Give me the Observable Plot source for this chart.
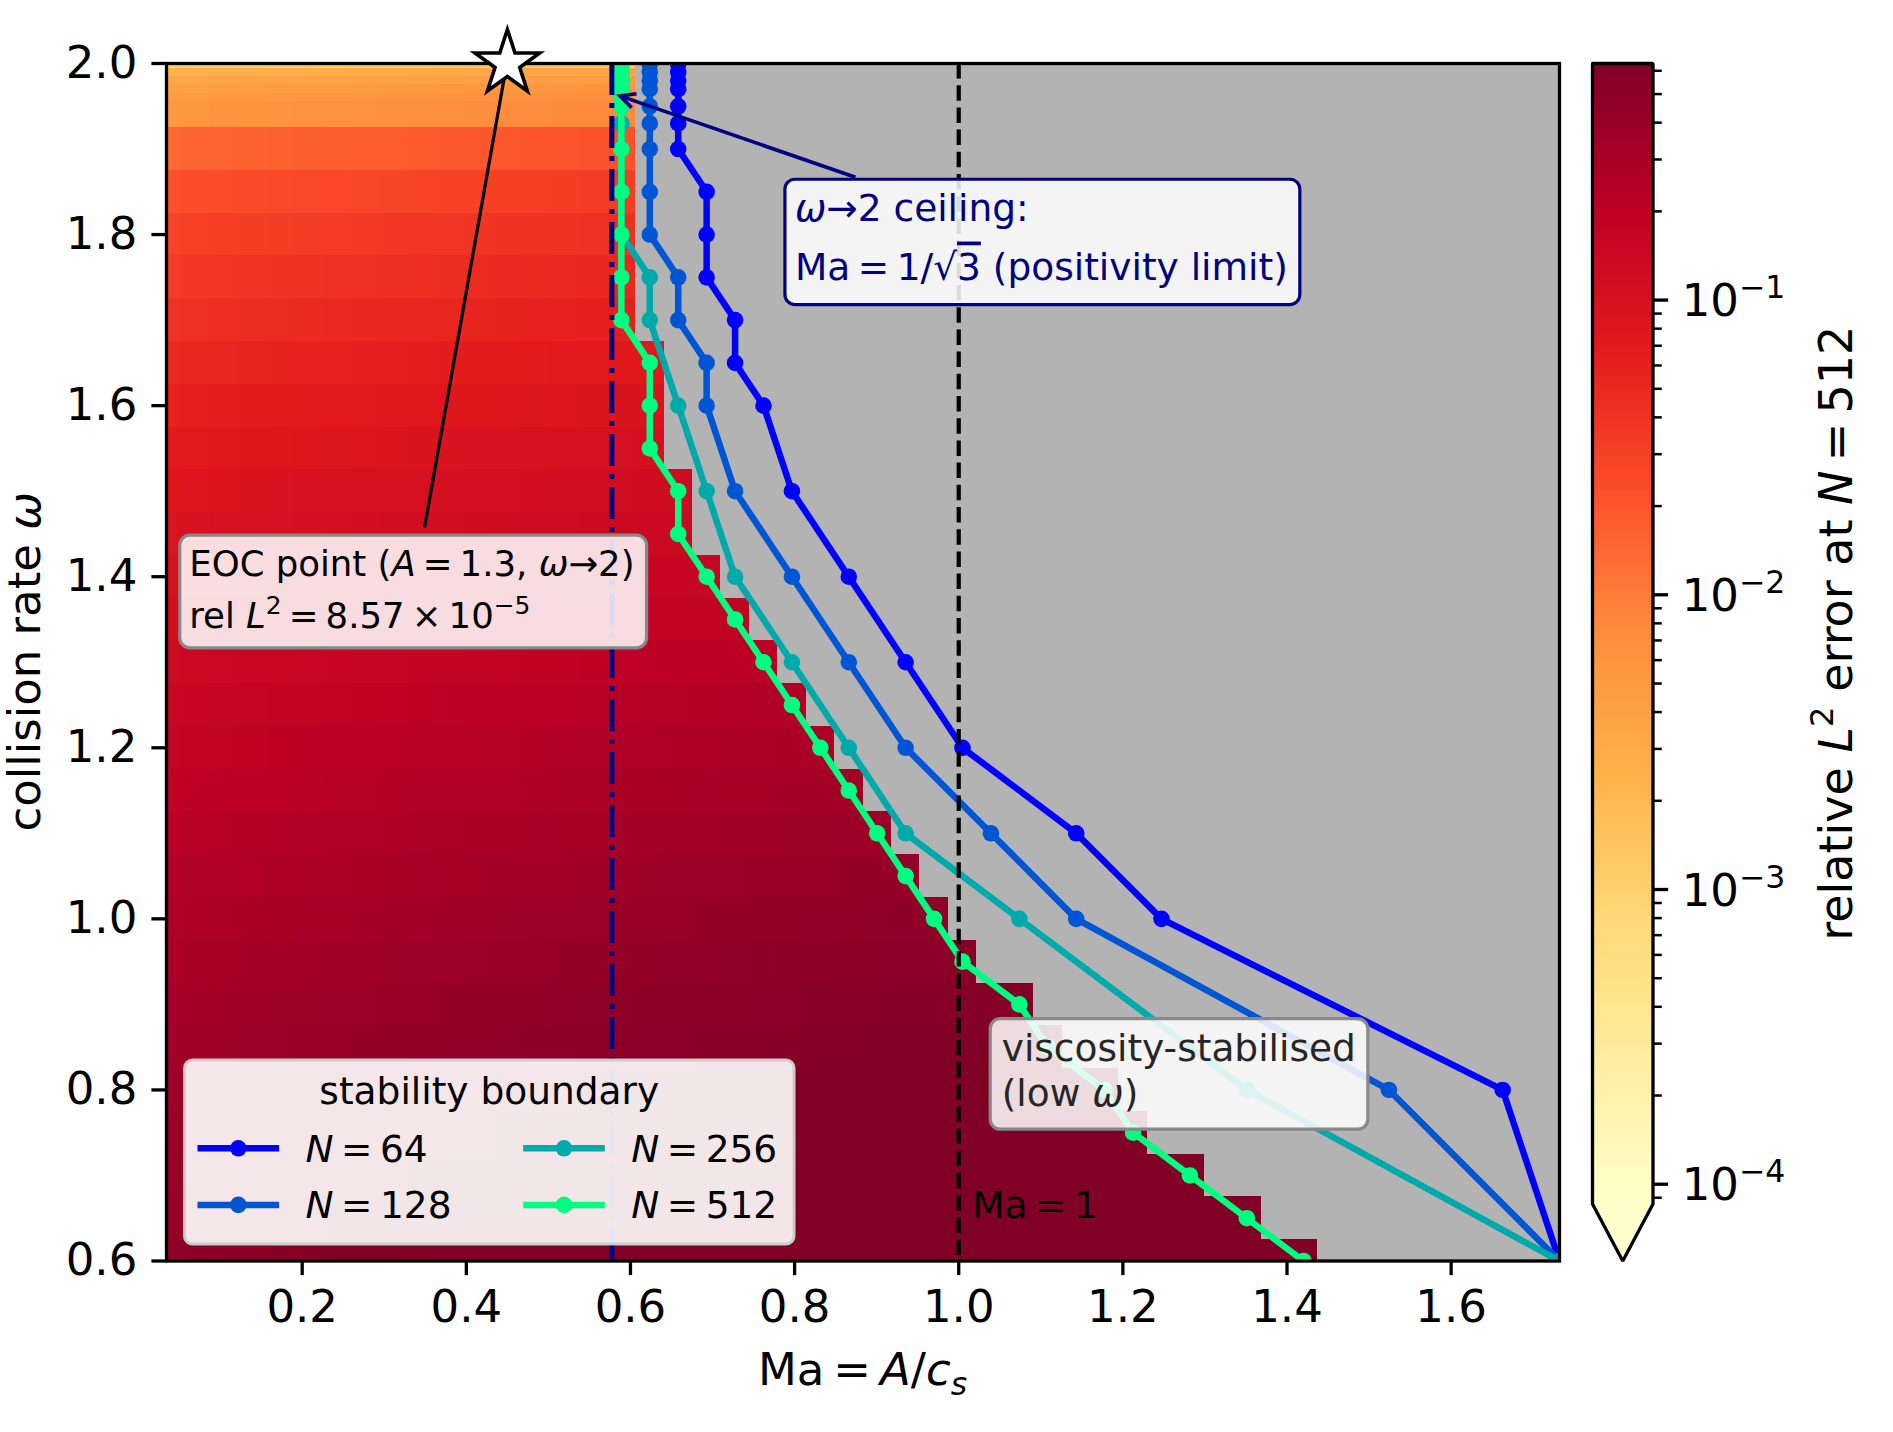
<!DOCTYPE html>
<html>
<head>
<meta charset="utf-8">
<script src="https://cdn.jsdelivr.net/npm/d3@7"></script>
<script src="https://cdn.jsdelivr.net/npm/@observablehq/plot@0.6"></script>
<style>
  html, body { margin: 0; padding: 0; background: #ffffff; }
  #fig { position: relative; width: 1893px; height: 1432px; font-family: "DejaVu Sans", sans-serif; }
  #fig > svg { position: absolute; top: 0; overflow: visible; }
</style>
</head>
<body>
<div id="fig"></div>
<script>
const SQ3 = Math.sqrt(3);           // Ma = amplitude * sqrt(3)

// ---- N = 512 error sweep: collision-rate rows and amplitude columns ----
const omegaRows = [0.60, 0.65, 0.70, 0.75, 0.80, 0.85, 0.90, 0.95, 1.00, 1.05, 1.10,
                   1.15, 1.20, 1.25, 1.30, 1.35, 1.40, 1.45, 1.50, 1.55, 1.60, 1.65,
                   1.70, 1.75, 1.80, 1.85, 1.90, 1.95, 1.96, 1.97, 1.98, 1.99, 1.999];
// largest stable amplitude of each row (N = 512)
const ampMax512 = [0.82, 0.78, 0.74, 0.70, 0.68, 0.64, 0.62, 0.58, 0.56, 0.54, 0.52,
                   0.50, 0.48, 0.46, 0.44, 0.42, 0.40, 0.38, 0.38, 0.36, 0.36, 0.36,
                   0.34, 0.34, 0.34, 0.34, 0.34, 0.34, 0.34, 0.34, 0.34, 0.34, 0.34];
// relative L2 error at the smallest amplitude of each row
const rowError = [0.470, 0.440, 0.410, 0.385, 0.360, 0.335, 0.310, 0.285, 0.260, 0.235, 0.212,
                  0.190, 0.170, 0.150, 0.132, 0.116, 0.102, 0.090, 0.079, 0.068, 0.058, 0.0485,
                  0.0405, 0.0340, 0.0280, 0.0215, 0.0140, 0.00520, 0.00450, 0.00390, 0.00315, 0.00240, 0.00100];
// amplitude columns and the error growth relative to the first column
const ampGrid = [0.02, 0.04, 0.06, 0.08, 0.10, 0.12, 0.14, 0.16, 0.18, 0.20, 0.22, 0.24, 0.26, 0.28,
                 0.30, 0.32, 0.34, 0.36, 0.38, 0.40, 0.42, 0.44, 0.46, 0.48, 0.50, 0.52, 0.54, 0.56,
                 0.58, 0.60, 0.62, 0.64, 0.66, 0.68, 0.70, 0.72, 0.74, 0.76, 0.78, 0.80, 0.82];
const ampGrowth = [1.00, 1.06, 1.10, 1.13, 1.16, 1.19, 1.22, 1.25, 1.28, 1.31, 1.34, 1.37, 1.40, 1.43,
                   1.46, 1.49, 1.52, 1.55, 1.58, 1.61, 1.64, 1.67, 1.70, 1.73, 1.76, 1.79, 1.82, 1.85,
                   1.88, 1.91, 1.94, 1.97, 2.00, 2.03, 2.06, 2.09, 2.12, 2.15, 2.18, 2.21, 2.24];
const errMin = 8.57e-5, errMax = 0.635;

// ---- stability boundaries (largest stable amplitude per collision rate) ----
const omega64  = [1.999, 1.99, 1.98, 1.97, 1.95, 1.93, 1.90, 1.85, 1.80, 1.75, 1.70, 1.65, 1.60, 1.50, 1.40, 1.30, 1.20, 1.10, 1.00, 0.80, 0.60];
const amp64    = [0.38, 0.38, 0.38, 0.38, 0.38, 0.38, 0.38, 0.40, 0.40, 0.40, 0.42, 0.42, 0.44, 0.46, 0.50, 0.54, 0.58, 0.66, 0.72, 0.96, 1.00];
const omega128 = [1.999, 1.99, 1.98, 1.97, 1.95, 1.93, 1.90, 1.85, 1.80, 1.75, 1.70, 1.65, 1.60, 1.50, 1.40, 1.30, 1.20, 1.10, 1.00, 0.80, 0.60];
const amp128   = [0.36, 0.36, 0.36, 0.36, 0.36, 0.36, 0.36, 0.36, 0.36, 0.38, 0.38, 0.40, 0.40, 0.42, 0.46, 0.50, 0.54, 0.60, 0.66, 0.88, 1.00];
const omega256 = [1.999, 1.99, 1.98, 1.97, 1.95, 1.93, 1.90, 1.85, 1.80, 1.75, 1.70, 1.60, 1.50, 1.40, 1.30, 1.20, 1.10, 1.00, 0.80, 0.60];
const amp256   = [0.34, 0.34, 0.34, 0.34, 0.34, 0.34, 0.34, 0.34, 0.34, 0.36, 0.36, 0.38, 0.40, 0.42, 0.46, 0.50, 0.54, 0.62, 0.78, 1.00];
const seriesNames  = ["64", "128", "256", "512"];
const seriesColors = ["#0000ff", "#0055d4", "#00aaaa", "#00ff80"];

// ---- annotations ----
const eocPoint = {ma: 0.45, omega: 2.0};
const ceilingTarget = {ma: 1 / SQ3, omega: 1.965};
const xTicks = [0.2, 0.4, 0.6, 0.8, 1.0, 1.2, 1.4, 1.6];
const yTicks = [0.6, 0.8, 1.0, 1.2, 1.4, 1.6, 1.8, 2.0];
const cbarTicks = [1e-4, 1e-3, 1e-2, 1e-1];

// YlOrRd, piecewise linear through the ColorBrewer stops
const ylOrRd = ["#ffffcc", "#ffeda0", "#fed976", "#feb24c", "#fd8d3c", "#fc4e2a", "#e31a1c", "#bd0026", "#800026"];
const cmap = d3.piecewise(d3.interpolateRgb, ylOrRd);
const colorSpec = {type: "log", domain: [errMin, errMax], interpolate: cmap, clamp: true};

// heat-map cells, edges half-way between neighbouring grid values
const halfStep = (ampGrid[1] - ampGrid[0]) / 2;
const cells = [];
omegaRows.forEach((w, i) => {
  const lo = i === 0 ? w - (omegaRows[1] - w) / 2 : (omegaRows[i - 1] + w) / 2;
  const hi = i === omegaRows.length - 1 ? w + (w - omegaRows[i - 1]) / 2 : (w + omegaRows[i + 1]) / 2;
  ampGrid.forEach((a, j) => {
    if (a <= ampMax512[i] + 1e-9) {
      cells.push({x1: (a - halfStep) * SQ3, x2: (a + halfStep) * SQ3, y1: lo, y2: hi,
                  err: rowError[i] * ampGrowth[j]});
    }
  });
});

const boundaries = [
  d3.zip(omega64, amp64), d3.zip(omega128, amp128), d3.zip(omega256, amp256),
  d3.zip(omegaRows, ampMax512)
].map((pairs, k) => ({
  name: seriesNames[k], color: seriesColors[k],
  pts: pairs.map(([omega, amp]) => ({omega, ma: amp * SQ3})).sort((a, b) => b.omega - a.omega)
}));

const FIG_H = 1432;
const FRAME = {left: 166, right: 1559, top: 63, bottom: 1260.5};
const MAIN_W = 1585;
const TICK = 14.6, PAD = 14.6;
const FS = 45;

const main = Plot.plot({
  width: MAIN_W, height: FIG_H,
  marginLeft: FRAME.left, marginRight: MAIN_W - FRAME.right,
  marginTop: FRAME.top, marginBottom: FIG_H - FRAME.bottom,
  style: {fontFamily: "DejaVu Sans", fontSize: FS + "px", background: "transparent", overflow: "visible", color: "black"},
  x: {domain: [ampGrid[0] * SQ3, d3.max(amp64) * SQ3]},
  y: {domain: [yTicks[0], yTicks[yTicks.length - 1]]},
  color: colorSpec,
  marks: [
    Plot.frame({fill: "#b3b3b3", stroke: "none"}),
    Plot.rect(cells, {x1: "x1", x2: "x2", y1: "y1", y2: "y2", fill: "err", clip: true, shapeRendering: "crispEdges"}),
    ...boundaries.flatMap(s => [
      Plot.line(s.pts, {x: "ma", y: "omega", stroke: s.color, strokeWidth: 6.5, clip: true}),
      Plot.dot(s.pts, {x: "ma", y: "omega", r: 8.3, fill: s.color, clip: true})
    ]),
    Plot.ruleX([1.0], {stroke: "black", strokeWidth: 4.2, strokeDasharray: "15.5,6.7"}),
    Plot.ruleX([1 / SQ3], {stroke: "#000080", strokeWidth: 5, strokeDasharray: "32,8,5,8"}),
    Plot.frame({stroke: "black", strokeWidth: 3.3, fill: "none"}),
    Plot.axisX(xTicks, {tickSize: TICK, tickPadding: PAD, strokeWidth: 3.3, fontSize: FS, tickFormat: d => d.toFixed(1), label: null}),
    Plot.axisY(yTicks, {tickSize: TICK, tickPadding: PAD, strokeWidth: 3.3, fontSize: FS, tickFormat: d => d.toFixed(1), label: null}),
    Plot.dot([eocPoint], {x: "ma", y: "omega", symbol: "star", r: 20.3, fill: "white", stroke: "black", strokeWidth: 3.6})
  ]
});
main.style.left = "0px";
document.getElementById("fig").appendChild(main);

// ---- colour bar ----
const CB_LEFT = 1560, CB_W = 333;
const BAR = {x0: 1592 - CB_LEFT, x1: 1652.5 - CB_LEFT};
const logSpan = Math.log10(errMax) - Math.log10(errMin);
const errExt = errMin / Math.pow(10, 0.05 * logSpan);
const ramp = d3.range(400).map(i => {
  const lo = errMin * Math.pow(10, logSpan * i / 400);
  const hi = errMin * Math.pow(10, logSpan * (i + 1) / 400);
  return {lo, hi, mid: Math.sqrt(lo * hi)};
});
const minorTicks = [];
for (let e = -5; e <= -1; e++) for (let m = 2; m <= 9; m++) {
  const v = m * Math.pow(10, e);
  if (v >= errMin && v <= errMax) minorTicks.push(v);
}

const cbar = Plot.plot({
  width: CB_W, height: FIG_H,
  marginLeft: BAR.x0, marginRight: CB_W - BAR.x1,
  marginTop: FRAME.top, marginBottom: FIG_H - FRAME.bottom,
  style: {fontFamily: "DejaVu Sans", fontSize: FS + "px", background: "transparent", overflow: "visible", color: "black"},
  x: {domain: [0, 1], axis: null},
  y: {type: "log", domain: [errExt, errMax], axis: null},
  color: colorSpec,
  marks: [
    Plot.rect(ramp, {x1: 0, x2: 1, y1: "lo", y2: "hi", fill: "mid", shapeRendering: "crispEdges"}),
    Plot.areaY([{x: 0, y: errMin}, {x: 0.5, y: errExt}, {x: 1, y: errMin}], {x: "x", y1: errMin, y2: "y", fill: cmap(0)}),
    Plot.line([{x: 0, y: errMax}, {x: 0, y: errMin}, {x: 0.5, y: errExt}, {x: 1, y: errMin}, {x: 1, y: errMax}, {x: 0, y: errMax}],
              {x: "x", y: "y", stroke: "black", strokeWidth: 3.3, strokeLinejoin: "miter", curve: "linear"}),
    Plot.axisY(minorTicks, {anchor: "right", tickSize: 8.3, strokeWidth: 2.5, tickFormat: () => "", label: null}),
    Plot.axisY(cbarTicks, {anchor: "right", tickSize: TICK, strokeWidth: 3.3, tickFormat: () => "", label: null})
  ]
});
cbar.style.left = CB_LEFT + "px";
document.getElementById("fig").appendChild(cbar);

// ---- text helpers ----
function richText(g, x, y, segs, fs, color, anchor) {
  const t = g.append("text").attr("x", x).attr("y", y).attr("font-size", fs)
    .attr("fill", color).attr("text-anchor", anchor || "start").attr("font-family", "DejaVu Sans");
  let shift = 0;
  for (const s of segs) {
    const sp = t.append("tspan").text(s.t);
    const target = s.sup ? -0.4 * fs : s.sub ? 0.22 * fs : 0;
    if (target !== shift) { sp.attr("dy", target - shift); shift = target; }
    if (s.sup || s.sub) sp.attr("font-size", fs * 0.7);
    if (s.i) sp.attr("font-style", "italic");
    if (s.over) sp.attr("text-decoration", "overline");
  }
  return t;
}

// colour-bar tick labels as 10 with a raised exponent
const cy = cbar.scale("y");
const cbG = d3.select(cbar).append("g");
cbarTicks.forEach(v => {
  richText(cbG, BAR.x1 + TICK + PAD, cy.apply(v) + 0.37 * FS,
    [{t: "10"}, {t: "\u2212" + Math.abs(Math.round(Math.log10(v))), sup: true}], FS, "black");
});

const svg = d3.select(main);
const sx = main.scale("x"), sy = main.scale("y");
const X = v => sx.apply(v), Y = v => sy.apply(v);

function noteBox(lines, at, fs, lineGap, color, edge, pads) {
  const g = svg.append("g");
  lines.forEach((segs, k) => richText(g, X(at.ma), Y(at.omega) + k * lineGap, segs, fs, color));
  const bb = g.node().getBBox();
  const r = {x0: bb.x - pads[0], x1: bb.x + bb.width + pads[1], y0: bb.y - pads[2], y1: bb.y + bb.height + pads[3]};
  g.insert("rect", ":first-child").attr("x", r.x0).attr("y", r.y0)
    .attr("width", r.x1 - r.x0).attr("height", r.y1 - r.y0).attr("rx", 10).attr("ry", 10)
    .attr("fill", "white").attr("fill-opacity", 0.86).attr("stroke", edge).attr("stroke-width", 3.2);
  return r;
}

function arrowFrom(r, to, color, width, shrinkA, shrinkB, head) {
  const c = [(r.x0 + r.x1) / 2, (r.y0 + r.y1) / 2];
  const dx = to[0] - c[0], dy = to[1] - c[1];
  let t = Infinity;
  if (dx > 0) t = Math.min(t, (r.x1 - c[0]) / dx); else if (dx < 0) t = Math.min(t, (r.x0 - c[0]) / dx);
  if (dy > 0) t = Math.min(t, (r.y1 - c[1]) / dy); else if (dy < 0) t = Math.min(t, (r.y0 - c[1]) / dy);
  const len = Math.hypot(dx, dy), ux = dx / len, uy = dy / len;
  const s = [c[0] + dx * t + ux * shrinkA, c[1] + dy * t + uy * shrinkA];
  const e = [to[0] - ux * shrinkB, to[1] - uy * shrinkB];
  const g = svg.append("g").attr("stroke", color).attr("stroke-width", width).attr("fill", "none").attr("stroke-linecap", "butt");
  g.append("line").attr("x1", s[0]).attr("y1", s[1]).attr("x2", e[0]).attr("y2", e[1]);
  if (head) {
    const [hl, hw] = head;
    const bx = e[0] - ux * hl, by = e[1] - uy * hl;
    g.append("path").attr("stroke-linejoin", "miter")
      .attr("d", `M${bx - uy * hw},${by + ux * hw}L${e[0]},${e[1]}L${bx + uy * hw},${by - ux * hw}`);
  }
}

// "Ma = 1" label beside the dashed line
richText(svg.append("g"), X(1.017), Y(0.65), [{t: "Ma\u2009=\u20091"}], 37.5, "black");

// EOC annotation
const eocBox = noteBox([
  [{t: "EOC point ("}, {t: "A", i: true}, {t: "\u2009=\u20091.3, "}, {t: "\u03c9", i: true}, {t: "\u21922)"}],
  [{t: "rel "}, {t: "L", i: true}, {t: "2", sup: true}, {t: "\u2009=\u20098.57\u2009\u00d7\u200910"}, {t: "\u22125", sup: true}]
], {ma: 0.063, omega: 1.40}, 35.5, 51.6, "black", "#888888", [9.5, 12, 8, 12]);
arrowFrom(eocBox, [X(eocPoint.ma), Y(eocPoint.omega)], "black", 3.2, 8, 17, null);

// positivity-ceiling annotation
const ceilBox = noteBox([
  [{t: "\u03c9", i: true}, {t: "\u21922 ceiling:"}],
  [{t: "Ma\u2009=\u20091/\u221a"}, {t: "3", over: true}, {t: " (positivity limit)"}]
], {ma: 0.801, omega: 1.815}, 37.5, 58.3, "#000080", "#000080", [10, 12, 7, 16]);
arrowFrom(ceilBox, [X(ceilingTarget.ma), Y(ceilingTarget.omega)], "#000080", 3.6, 6, 9, [15, 7.5]);

// low-omega annotation
noteBox([
  [{t: "viscosity-stabilised"}],
  [{t: "(low "}, {t: "\u03c9", i: true}, {t: ")"}]
], {ma: 1.053, omega: 0.833}, 37.5, 45, "#262626", "#888888", [11.5, 12, 7.5, 14]);

// axis titles
richText(svg.append("g"), (FRAME.left + FRAME.right) / 2, 1385,
  [{t: "Ma\u2009=\u2009"}, {t: "A", i: true}, {t: "/"}, {t: "c", i: true}, {t: "s", i: true, sub: true}], FS, "black", "middle");
richText(svg.append("g").attr("transform", `translate(40,${(FRAME.top + FRAME.bottom) / 2}) rotate(-90)`), 0, 0,
  [{t: "collision rate "}, {t: "\u03c9", i: true}], FS, "black", "middle");

// colour-bar title
const cbBarBottom = cy.apply(errMin);
richText(d3.select(cbar).append("g").attr("transform", `translate(${1851.5 - CB_LEFT},${(FRAME.top + cbBarBottom) / 2}) rotate(-90)`), 0, 0,
  [{t: "relative "}, {t: "L", i: true}, {t: "2", sup: true}, {t: " error at "}, {t: "N", i: true}, {t: "\u2009=\u2009512"}], 46, "black", "middle");

// ---- legend ----
const leg = {x0: FRAME.left + 18.5, x1: FRAME.left + 628, y0: FRAME.bottom - 200.5, y1: FRAME.bottom - 16.5};
const lg = svg.append("g");
lg.append("rect").attr("x", leg.x0).attr("y", leg.y0).attr("width", leg.x1 - leg.x0).attr("height", leg.y1 - leg.y0)
  .attr("rx", 8).attr("ry", 8).attr("fill", "white").attr("fill-opacity", 0.9).attr("stroke", "#cccccc").attr("stroke-width", 3);
richText(lg, (leg.x0 + leg.x1) / 2, leg.y0 + 44, [{t: "stability boundary"}], 37.5, "black", "middle");
boundaries.forEach((s, k) => {
  const col = Math.floor(k / 2), row = k % 2;
  const bx = leg.x0 + 13 + col * 325.7;
  const base = leg.y0 + 101.7 + row * 56.6;
  const hy = base - 13.4;
  lg.append("line").attr("x1", bx).attr("x2", bx + 81.6).attr("y1", hy).attr("y2", hy)
    .attr("stroke", s.color).attr("stroke-width", 6.5);
  lg.append("circle").attr("cx", bx + 40.8).attr("cy", hy).attr("r", 8.3).attr("fill", s.color);
  richText(lg, bx + 108, base, [{t: "N", i: true}, {t: "\u2009=\u2009" + s.name}], 37.5, "black");
});
</script>
</body>
</html>
